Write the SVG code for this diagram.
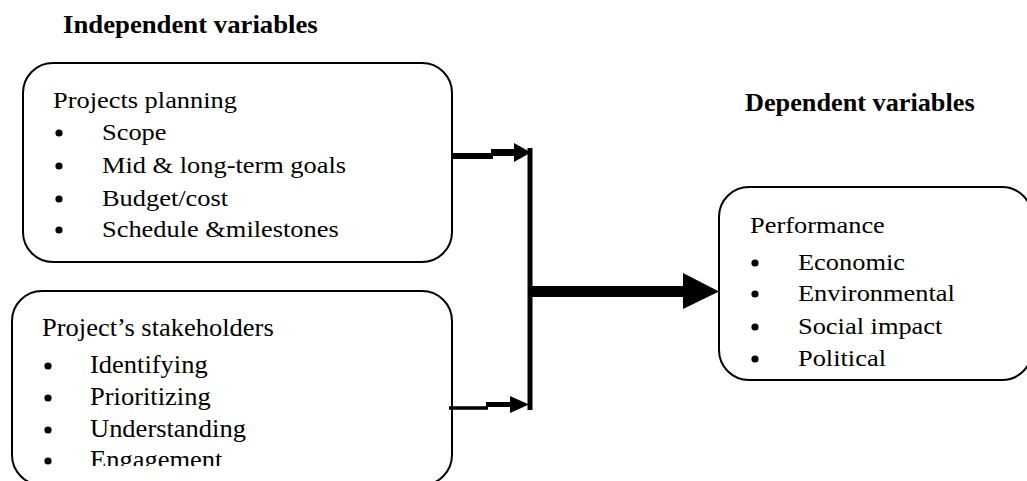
<svg xmlns="http://www.w3.org/2000/svg" width="1027" height="481" viewBox="0 0 1027 481">
<style>
.box{fill:#fff;stroke:#000;stroke-width:2}
.t{font-family:"Liberation Serif","Times New Roman",serif;font-size:24px;fill:#000}
.tb{font-family:"Liberation Serif","Times New Roman",serif;font-size:25px;fill:#000}
.h{font-family:"Liberation Serif","Times New Roman",serif;font-size:25px;font-weight:bold;fill:#000}
.bul{fill:#000}
.ln{fill:none;stroke:#000}
</style>
<defs>
<clipPath id="clipB"><rect x="0" y="291" width="460" height="175"/></clipPath>
</defs>
<rect width="1027" height="481" fill="#fff"/>
<g id="heading-independent">
<text class="h" transform="translate(63,33) scale(1.07,1)">Independent variables</text>
</g>
<g id="heading-dependent">
<text class="h" transform="translate(745,111) scale(1.05,1)">Dependent variables</text>
</g>
<g id="node-planning">
<rect class="box" x="23" y="63" width="429" height="199" rx="30" ry="30"/>
<text class="t" transform="translate(53,108) scale(1.1,1)">Projects planning</text>
<circle class="bul" cx="59" cy="133" r="3.6"/>
<text class="t" transform="translate(102,140) scale(1.1,1)">Scope</text>
<circle class="bul" cx="59" cy="166" r="3.6"/>
<text class="t" transform="translate(102,173) scale(1.1,1)">Mid &amp; long-term goals</text>
<circle class="bul" cx="59" cy="199" r="3.6"/>
<text class="t" transform="translate(102,206) scale(1.1,1)">Budget/cost</text>
<circle class="bul" cx="59" cy="230" r="3.6"/>
<text class="t" transform="translate(102,237) scale(1.1,1)">Schedule &amp;milestones</text>
</g>
<g id="node-stakeholders">
<rect class="box" x="12" y="291" width="440" height="194" rx="30" ry="30"/>
<text class="tb" transform="translate(42,336) scale(1.06,1)">Project’s stakeholders</text>
<circle class="bul" cx="48" cy="366" r="3.6"/>
<text class="tb" transform="translate(90,373) scale(1.06,1)">Identifying</text>
<circle class="bul" cx="48" cy="398" r="3.6"/>
<text class="tb" transform="translate(90,405) scale(1.06,1)">Prioritizing</text>
<circle class="bul" cx="48" cy="430" r="3.6"/>
<text class="tb" transform="translate(90,437) scale(1.06,1)">Understanding</text>
<g clip-path="url(#clipB)">
<circle class="bul" cx="48" cy="461" r="3.6"/>
<text class="tb" transform="translate(90,468) scale(1.06,1)">Engagement</text>
</g>
</g>
<g id="node-performance">
<rect class="box" x="719" y="187" width="313" height="193" rx="30" ry="30"/>
<text class="t" transform="translate(750,233) scale(1.1,1)">Performance</text>
<circle class="bul" cx="755" cy="263" r="3.6"/>
<text class="t" transform="translate(798,270) scale(1.1,1)">Economic</text>
<circle class="bul" cx="755" cy="294" r="3.6"/>
<text class="t" transform="translate(798,301) scale(1.1,1)">Environmental</text>
<circle class="bul" cx="755" cy="327" r="3.6"/>
<text class="t" transform="translate(798,334) scale(1.1,1)">Social impact</text>
<circle class="bul" cx="755" cy="359" r="3.6"/>
<text class="t" transform="translate(798,366) scale(1.1,1)">Political</text>
</g>
<g id="connectors">
<path class="ln" d="M452,156 H493" stroke-width="6"/>
<path class="ln" d="M491,152.5 H516" stroke-width="7"/>
<polygon points="514,143 531,152.5 514,162" fill="#000"/>
<path class="ln" d="M449,408 H488" stroke-width="3.5"/>
<path class="ln" d="M486,404.5 H512" stroke-width="5"/>
<polygon points="510,396 529,404.5 510,413" fill="#000"/>
<path class="ln" d="M530,148 V410" stroke-width="5"/>
<path class="ln" d="M530,291.5 H686" stroke-width="11"/>
<polygon points="683,273 719,291.5 683,309" fill="#000"/>
</g>
</svg>
